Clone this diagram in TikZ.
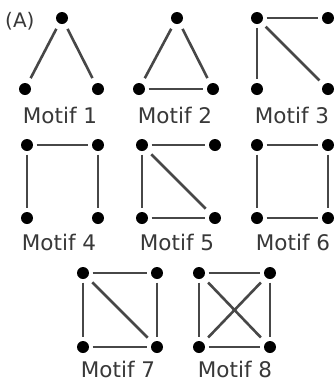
\documentclass[tikz,border=0pt]{standalone}
\usepackage{fontspec}
\setmainfont{DejaVu Sans}
\begin{document}
\begin{tikzpicture}[x=1pt,y=-1pt,
  dot/.style={circle,fill=black,inner sep=0pt,minimum size=12pt},
  edge/.style={draw=black!72,line width=2.6pt,shorten >=3.5pt,shorten <=3.5pt},
  lbl/.style={anchor=base,text=black!78,font=\fontsize{21.5}{25}\selectfont,inner sep=0pt}]
\useasboundingbox[fill=white] (0,0) rectangle (336,384);
\node[anchor=base west,text=black!78,font=\fontsize{20}{24}\selectfont,inner sep=0pt] (lA) at (5,27) {(A)};
% Motif 1
\node[dot] (m1a) at (62,18) {};
\node[dot] (m1b) at (25,89) {};
\node[dot] (m1c) at (98,89) {};
\draw[edge,shorten >=6pt,shorten <=6pt] (m1a) -- (m1b);
\draw[edge,shorten >=6pt,shorten <=6pt] (m1a) -- (m1c);
\node[lbl] (l1) at (60,123) {Motif 1};
% Motif 2
\node[dot] (m2a) at (177,18) {};
\node[dot] (m2b) at (139,89) {};
\node[dot] (m2c) at (213,89) {};
\draw[edge,shorten >=6pt,shorten <=6pt] (m2a) -- (m2b);
\draw[edge,shorten >=6pt,shorten <=6pt] (m2a) -- (m2c);
\draw[edge] (m2b) -- (m2c);
\node[lbl] (l2) at (175,123) {Motif 2};
% Motif 3
\node[dot] (m3a) at (257,18) {};
\node[dot] (m3b) at (328,18) {};
\node[dot] (m3c) at (257,89) {};
\node[dot] (m3d) at (328,89) {};
\draw[edge] (m3a) -- (m3b);
\draw[edge] (m3a) -- (m3c);
\draw[edge,shorten >=6pt,shorten <=6pt] (m3a) -- (m3d);
\node[lbl] (l3) at (292,123) {Motif 3};
% Motif 4
\node[dot] (m4a) at (27,145) {};
\node[dot] (m4b) at (98,145) {};
\node[dot] (m4c) at (27,218) {};
\node[dot] (m4d) at (98,218) {};
\draw[edge] (m4a) -- (m4b);
\draw[edge] (m4a) -- (m4c);
\draw[edge] (m4b) -- (m4d);
\node[lbl] (l4) at (59,250) {Motif 4};
% Motif 5
\node[dot] (m5a) at (142,145) {};
\node[dot] (m5b) at (215,145) {};
\node[dot] (m5c) at (142,218) {};
\node[dot] (m5d) at (215,218) {};
\draw[edge] (m5a) -- (m5b);
\draw[edge] (m5a) -- (m5c);
\draw[edge] (m5c) -- (m5d);
\draw[edge,shorten >=7pt,shorten <=7pt] (m5a) -- (m5d);
\node[lbl] (l5) at (177,250) {Motif 5};
% Motif 6
\node[dot] (m6a) at (257,145) {};
\node[dot] (m6b) at (328,145) {};
\node[dot] (m6c) at (257,218) {};
\node[dot] (m6d) at (328,218) {};
\draw[edge] (m6a) -- (m6b);
\draw[edge] (m6a) -- (m6c);
\draw[edge] (m6b) -- (m6d);
\draw[edge] (m6c) -- (m6d);
\node[lbl] (l6) at (293,250) {Motif 6};
% Motif 7
\node[dot] (m7a) at (83,273) {};
\node[dot] (m7b) at (157,273) {};
\node[dot] (m7c) at (83,347) {};
\node[dot] (m7d) at (157,347) {};
\draw[edge] (m7a) -- (m7b);
\draw[edge] (m7a) -- (m7c);
\draw[edge] (m7b) -- (m7d);
\draw[edge] (m7c) -- (m7d);
\draw[edge,shorten >=7pt,shorten <=7pt] (m7a) -- (m7d);
\node[lbl] (l7) at (118,377) {Motif 7};
% Motif 8
\node[dot] (m8a) at (199,273) {};
\node[dot] (m8b) at (270,273) {};
\node[dot] (m8c) at (199,347) {};
\node[dot] (m8d) at (270,347) {};
\draw[edge] (m8a) -- (m8b);
\draw[edge] (m8a) -- (m8c);
\draw[edge] (m8b) -- (m8d);
\draw[edge] (m8c) -- (m8d);
\draw[edge,shorten >=7pt,shorten <=7pt] (m8a) -- (m8d);
\draw[edge,shorten >=7pt,shorten <=7pt] (m8b) -- (m8c);
\node[lbl] (l8) at (235,377) {Motif 8};
\end{tikzpicture}
\end{document}
